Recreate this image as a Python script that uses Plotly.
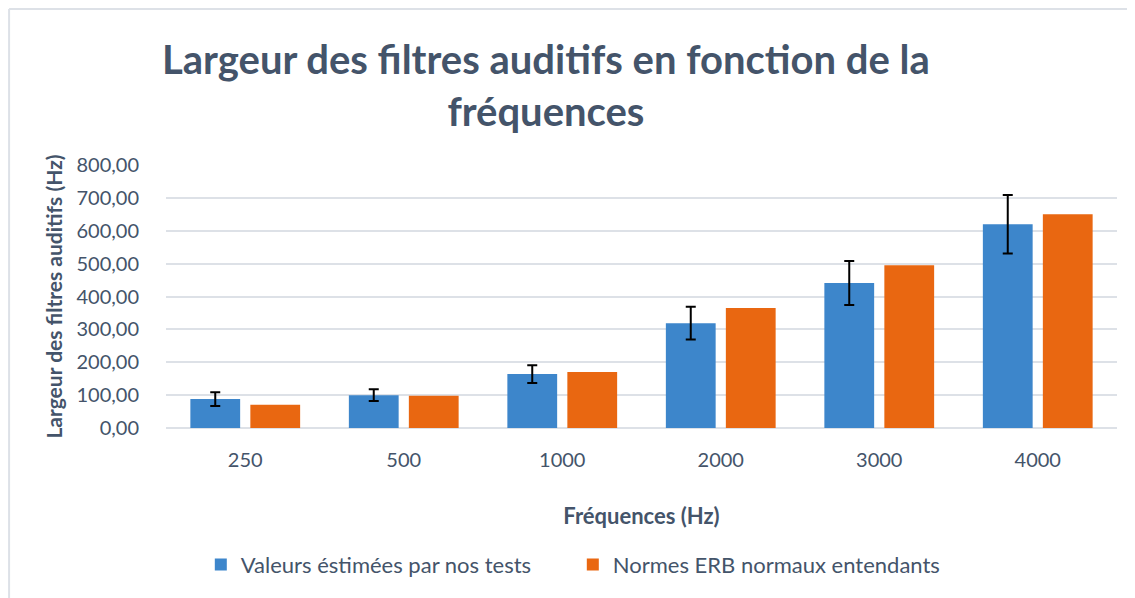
import plotly.graph_objects as go

# Data
frequences = ["250", "500", "1000", "2000", "3000", "4000"]
valeurs_estimees = [88, 100, 164, 319, 441, 620]
erreurs_estimees = [21, 18, 27, 50, 67, 89]
normes_erb = [71, 98, 170, 365, 495, 650]

text_color = "#44546A"
font_family = "Lato, 'Open Sans', sans-serif"

fig = go.Figure()

fig.add_trace(go.Bar(
    x=frequences,
    y=valeurs_estimees,
    name="Valeurs éstimées par nos tests",
    marker=dict(color="#3D86CB", line=dict(width=0)),
    error_y=dict(type="data", array=erreurs_estimees, visible=True,
                 color="black", thickness=2, width=5),
))

fig.add_trace(go.Bar(
    x=frequences,
    y=normes_erb,
    name="Normes ERB normaux entendants",
    marker=dict(color="#E96711", line=dict(width=0)),
))

# light frame on the top and left edges of the picture
fig.add_shape(type="line", xref="paper", yref="paper",
              x0=-0.165, x1=1.04, y0=1.593, y1=1.593,
              line=dict(color="#DDE1E7", width=2))
fig.add_shape(type="line", xref="paper", yref="paper",
              x0=-0.165, x1=-0.165, y0=1.593, y1=-0.68,
              line=dict(color="#DDE1E7", width=2))

# two-line chart title
fig.add_annotation(
    text="<b>Largeur des filtres auditifs en fonction de la<br>fréquences</b>",
    xref="paper", yref="paper", x=0.3996, y=1.305,
    xanchor="center", yanchor="middle", showarrow=False,
    font=dict(size=40, color=text_color, family=font_family),
)

fig.update_layout(
    width=1135,
    height=598,
    margin=dict(l=158, r=26, t=157, b=178, autoexpand=False),
    paper_bgcolor="white",
    plot_bgcolor="white",
    font=dict(family=font_family, color=text_color, size=20),
    separators=", ",
    barmode="group",
    bargap=0.243,
    bargroupgap=0.17,
    legend=dict(
        orientation="h",
        x=0.0366, xanchor="left",
        y=-0.52, yanchor="middle",
        font=dict(size=22, color=text_color),
        traceorder="normal",
        itemwidth=30,
        entrywidth=327,
        entrywidthmode="pixels",
    ),
    showlegend=True,
)

fig.update_yaxes(
    range=[0, 800],
    dtick=100,
    tickformat=".2f",
    showgrid=True,
    gridcolor="#DDE1E7",
    gridwidth=1.5,
    zeroline=True,
    zerolinecolor="#DDE1E7",
    zerolinewidth=1.5,
    showline=False,
    ticks="",
    automargin=False,
    ticklabelstandoff=26,
    tickfont=dict(size=20, color=text_color),
    title=dict(text="<b>Largeur des filtres auditifs (Hz)</b>",
               font=dict(size=21, color=text_color), standoff=8),
)

fig.update_xaxes(
    showline=False,
    ticks="",
    automargin=False,
    ticklabelstandoff=18,
    tickfont=dict(size=20, color=text_color),
    title=dict(text="<b>Fréquences (Hz)</b>",
               font=dict(size=22, color=text_color), standoff=38),
)

fig.write_html("out.html")
